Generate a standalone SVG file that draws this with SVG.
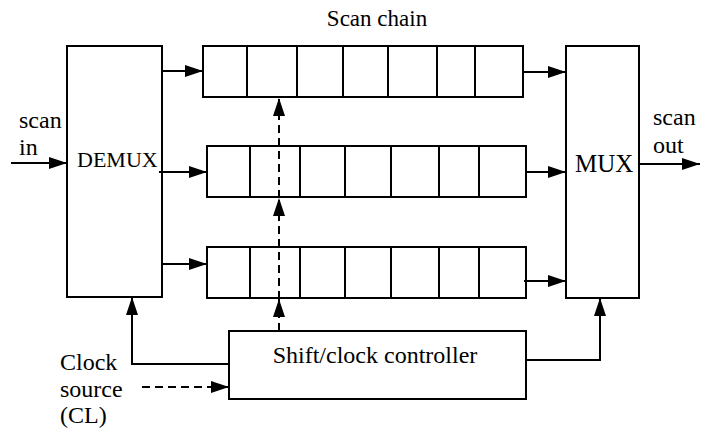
<svg xmlns="http://www.w3.org/2000/svg" width="712" height="431" viewBox="0 0 712 431">
<style>
.box{fill:#fff;stroke:#000;stroke-width:2}
.cell{fill:none;stroke:#000;stroke-width:2}
.ln{fill:none;stroke:#000;stroke-width:2}
.dash{stroke-dasharray:8,5}
.t{font-family:"Liberation Serif","Times New Roman",serif;fill:#000;font-size:24px}
.t22{font-size:22px}
.t23{font-size:23px}
.t25{font-size:25px}
</style>
<defs>
<marker id="ah" markerUnits="userSpaceOnUse" markerWidth="18" markerHeight="12" refX="18" refY="6" orient="auto" overflow="visible">
<path d="M0,0 L18,6 L0,12 Z" fill="#000" stroke="none"/>
</marker>
</defs>
<rect width="712" height="431" fill="#fff"/>
<text class="t t23" x="377" y="26" text-anchor="middle">Scan chain</text>
<g id="demux">
<rect class="box" x="67" y="46" width="95" height="251"/>
<text class="t t22" x="77" y="167">DEMUX</text>
</g>
<g id="mux">
<rect class="box" x="566" y="46" width="73" height="252"/>
<text class="t t25" x="575" y="172">MUX</text>
</g>
<g id="chain1">
<rect class="box" x="203" y="46" width="320" height="51"/>
<path class="cell" d="M247,46V97M297,46V97M343,46V97M388,46V97M437,46V97M475,46V97"/>
</g>
<g id="chain2">
<rect class="box" x="207" y="146" width="319" height="51"/>
<path class="cell" d="M250,146V197M300,146V197M345,146V197M391,146V197M439,146V197M479,146V197"/>
</g>
<g id="chain3">
<rect class="box" x="207" y="247" width="319" height="51"/>
<path class="cell" d="M250,247V298M300,247V298M345,247V298M391,247V298M439,247V298M479,247V298"/>
</g>
<g id="controller">
<rect class="box" x="229" y="331" width="297" height="68"/>
<text class="t" x="375" y="363" text-anchor="middle">Shift/clock controller</text>
</g>
<g id="labels">
<text class="t" x="19" y="128">scan</text>
<text class="t" x="19" y="155">in</text>
<text class="t" x="653" y="125">scan</text>
<text class="t" x="653" y="153">out</text>
<text class="t" x="60" y="370">Clock</text>
<text class="t" x="60" y="397">source</text>
<text class="t" x="60" y="423">(CL)</text>
</g>
<g id="connectors">
<line class="ln" x1="11" y1="163" x2="67" y2="163" marker-end="url(#ah)"/>
<line class="ln" x1="162" y1="71" x2="203" y2="71" marker-end="url(#ah)"/>
<line class="ln" x1="159" y1="172" x2="207" y2="172" marker-end="url(#ah)"/>
<line class="ln" x1="162" y1="264" x2="207" y2="264" marker-end="url(#ah)"/>
<line class="ln" x1="523" y1="72" x2="566" y2="72" marker-end="url(#ah)"/>
<line class="ln" x1="525" y1="172" x2="566" y2="172" marker-end="url(#ah)"/>
<line class="ln" x1="524" y1="281" x2="566" y2="281" marker-end="url(#ah)"/>
<line class="ln" x1="639" y1="164" x2="700" y2="164" marker-end="url(#ah)"/>
<polyline class="ln" points="229,364 132,364 132,297" marker-end="url(#ah)"/>
<polyline class="ln" points="526,360 600,360 600,298" marker-end="url(#ah)"/>
<line class="ln dash" x1="142" y1="387" x2="229" y2="387" marker-end="url(#ah)"/>
<line class="ln dash" x1="279" y1="331" x2="279" y2="299" marker-end="url(#ah)"/>
<line class="ln dash" x1="279" y1="299" x2="279" y2="198" marker-end="url(#ah)"/>
<line class="ln dash" x1="279" y1="198" x2="279" y2="98" marker-end="url(#ah)"/>
</g>
</svg>
